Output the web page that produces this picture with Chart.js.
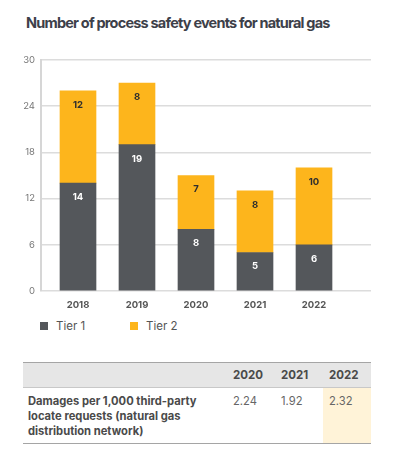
<!DOCTYPE html>
<html>
<head>
<meta charset="utf-8">
<script src="https://cdn.jsdelivr.net/npm/chart.js@4.4.0/dist/chart.umd.min.js"></script>
<style>
  body { margin: 0; background: #fff; width: 396px; height: 469px; position: relative; overflow: hidden; font-family: Inter, "Liberation Sans", sans-serif; }
  #title { position: absolute; left: 26px; top: 14px; font-size: 14.5px; font-weight: 700; color: #3d4049; letter-spacing: -0.8px; white-space: nowrap; }
  #wrap { position: absolute; left: 0; top: 0; width: 396px; height: 315px; }
  .leg { position: absolute; top: 319px; font-size: 11.5px; color: #555; }
  .leg span { display: inline-block; width: 8px; height: 8px; margin-right: 8px; vertical-align: 0px; }
  table { position: absolute; left: 23px; top: 362px; width: 348px; border-collapse: collapse; font-size: 11.2px; }
  th { background: #e6e6e6; color: #4a4a4a; font-weight: 700; text-align: left; height: 24px; padding: 0 0 0 6px; border-top: 1.5px solid #a5a5a5; border-bottom: 1px solid #c8c8c8; font-size: 11.5px; }
  td { vertical-align: top; padding: 6px 0 3px 6px; line-height: 15.2px; color: #666; border-bottom: 1.5px solid #a5a5a5; }
  td.lbl { font-weight: 700; color: #4a4a4a; padding-left: 5px; }
  td.hl { background: #fff3d8; }
</style>
</head>
<body>
<div id="title">Number of process safety events for natural gas</div>
<div id="wrap"><canvas id="myChart" width="396" height="315"></canvas></div>
<div class="leg" style="left:40px"><span style="background:#54575b"></span>Tier 1</div>
<div class="leg" style="left:130px"><span style="background:#fdb51c"></span>Tier 2</div>
<table id="tbl"></table>
<script>
let years = [2018, 2019, 2020, 2021, 2022];
let tier1 = [14, 19, 8, 5, 6];
let tier2 = [12, 8, 7, 8, 10];
let yTicks = [0, 6, 12, 18, 24, 30];

let tableYears = ['2020', '2021', '2022'];
let rowLabel = 'Damages per 1,000 third-party locate requests (natural gas distribution network)';
let rowValues = ['2.24', '1.92', '2.32'];

// table
let tbl = document.getElementById('tbl');
let head = '<tr><th style="width:198px"></th>';
for (let i = 0; i < tableYears.length; i++) {
    head += '<th style="width:42px">' + tableYears[i] + '</th>';
}
head += '</tr>';
let body = '<tr><td class="lbl">' + rowLabel.replace('third-party ', 'third-party<br>').replace('(natural gas ', '(natural gas<br>') + '</td>';
for (let i = 0; i < rowValues.length; i++) {
    body += '<td' + (i === rowValues.length - 1 ? ' class="hl"' : '') + '>' + rowValues[i] + '</td>';
}
body += '</tr>';
tbl.innerHTML = head + body;

function pairs(vals) {
    return vals.map((v, i) => ({ x: years[i], y: v }));
}

// value labels near the top of each segment
let barLabels = {
    id: 'barLabels',
    afterDatasetsDraw(chart) {
        let ctx = chart.ctx;
        ctx.save();
        ctx.font = 'bold 9.5px Inter, "Liberation Sans", sans-serif';
        ctx.textAlign = 'center';
        ctx.textBaseline = 'middle';
        chart.data.datasets.forEach((ds, di) => {
            let meta = chart.getDatasetMeta(di);
            ctx.fillStyle = di === 0 ? '#ffffff' : '#2e2e2e';
            meta.data.forEach((bar, i) => {
                ctx.fillText(String(ds.data[i].y), bar.x, bar.y + 14);
            });
        });
        ctx.restore();
    }
};

let ctx = document.getElementById('myChart').getContext('2d');
let chart = new Chart(ctx, {
    type: 'bar',
    data: {
        datasets: [{
            label: 'Tier 1',
            data: pairs(tier1),
            backgroundColor: '#54575b',
            barThickness: 36
        }, {
            label: 'Tier 2',
            data: pairs(tier2),
            backgroundColor: '#fdb51c',
            barThickness: 36
        }]
    },
    options: {
        responsive: false,
        animation: false,
        events: [],
        layout: { padding: { top: 60, right: 25, left: 0, bottom: 0 } },
        plugins: { legend: { display: false }, tooltip: { enabled: false } },
        scales: {
            x: {
                type: 'linear',
                stacked: true,
                offset: false,
                min: 2017.373,
                max: 2022.966,
                grid: { display: false, offset: false },
                border: { display: false },
                ticks: {
                    stepSize: 1,
                    includeBounds: false,
                    autoSkip: false,
                    maxRotation: 0,
                    padding: 0,
                    color: '#555',
                    font: { family: 'Inter, "Liberation Sans", sans-serif', size: 9.5, weight: 'bold' },
                    callback: v => String(v)
                },
                afterFit(scale) { scale.height = 24; }
            },
            y: {
                stacked: true,
                min: 0,
                max: 30,
                afterBuildTicks(scale) { scale.ticks = yTicks.map(v => ({ value: v })); },
                grid: { color: '#dcdcdc', lineWidth: 1.5, drawTicks: false },
                border: { display: true, color: '#d6d6d6', width: 2 },
                ticks: {
                    padding: 6,
                    color: '#777',
                    font: { family: 'Inter, "Liberation Sans", sans-serif', size: 9.5 }
                },
                afterFit(scale) { scale.width = 41; }
            }
        }
    },
    plugins: [barLabels]
});
</script>
</body>
</html>
